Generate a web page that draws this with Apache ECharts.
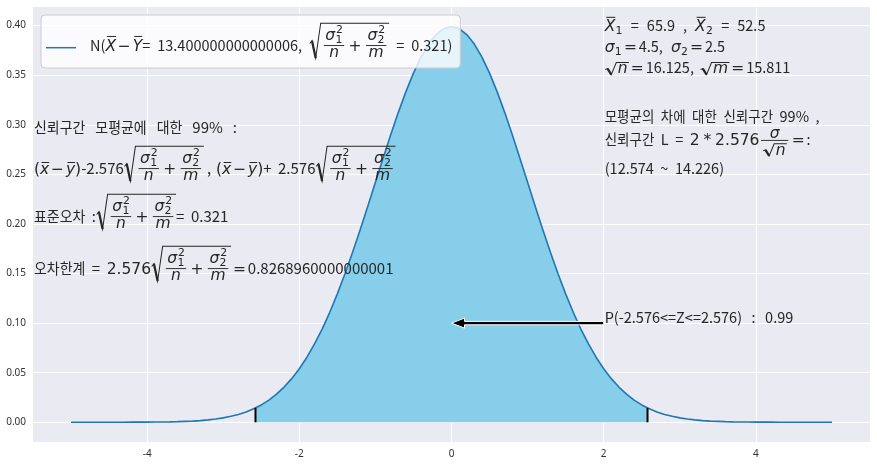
<!DOCTYPE html>
<html><head><meta charset="utf-8">
<script src="https://cdn.jsdelivr.net/npm/echarts@6/dist/echarts.min.js"></script>
<style>html,body{margin:0;padding:0;background:#fff}#c{width:877px;height:465px}</style>
</head><body><div id="c"></div>
<script>
// ---------------- data ----------------
const xValues = [-5.0,-4.9,-4.8,-4.7,-4.6,-4.5,-4.4,-4.3,-4.2,-4.1,-4.0,-3.9,-3.8,-3.7,-3.6,-3.5,-3.4,-3.3,-3.2,-3.1,
  -3.0,-2.9,-2.8,-2.7,-2.6,-2.5,-2.4,-2.3,-2.2,-2.1,-2.0,-1.9,-1.8,-1.7,-1.6,-1.5,-1.4,-1.3,-1.2,-1.1,
  -1.0,-0.9,-0.8,-0.7,-0.6,-0.5,-0.4,-0.3,-0.2,-0.1,0.0,0.1,0.2,0.3,0.4,0.5,0.6,0.7,0.8,0.9,
  1.0,1.1,1.2,1.3,1.4,1.5,1.6,1.7,1.8,1.9,2.0,2.1,2.2,2.3,2.4,2.5,2.6,2.7,2.8,2.9,
  3.0,3.1,3.2,3.3,3.4,3.5,3.6,3.7,3.8,3.9,4.0,4.1,4.2,4.3,4.4,4.5,4.6,4.7,4.8,4.9,5.0];
const densities = [0.0000,0.0000,0.0000,0.0000,0.0000,0.0000,0.0000,0.0000,0.0001,0.0001,0.0001,0.0002,0.0003,0.0004,0.0006,0.0009,0.0012,0.0017,0.0024,0.0033,
  0.0044,0.0060,0.0079,0.0104,0.0136,0.0175,0.0224,0.0283,0.0355,0.0440,0.0540,0.0656,0.0790,0.0940,0.1109,0.1295,0.1497,0.1714,0.1942,0.2179,
  0.2420,0.2661,0.2897,0.3123,0.3332,0.3521,0.3683,0.3814,0.3910,0.3970,0.3989,0.3970,0.3910,0.3814,0.3683,0.3521,0.3332,0.3123,0.2897,0.2661,
  0.2420,0.2179,0.1942,0.1714,0.1497,0.1295,0.1109,0.0940,0.0790,0.0656,0.0540,0.0440,0.0355,0.0283,0.0224,0.0175,0.0136,0.0104,0.0079,0.0060,
  0.0044,0.0033,0.0024,0.0017,0.0012,0.0009,0.0006,0.0004,0.0003,0.0002,0.0001,0.0001,0.0001,0.0000,0.0000,0.0000,0.0000,0.0000,0.0000,0.0000,0.0000];
const criticalZ = [-2.576, 2.576];
const criticalDensity = 0.0145;
const xTicks = [-4, -2, 0, 2, 4];
const yTicks = [0, 0.05, 0.10, 0.15, 0.20, 0.25, 0.30, 0.35, 0.40];
const arrowFrom = [2, 0.1];
const arrowTo = [0, 0.1];
const leftAnchor = [-5.5, 0.15];
const rightAnchor = [2, 0.25];
const probAnchor = [2, 0.1];
const meanDiff = '13.400000000000006';
const stdErr = '0.321';
const errMargin = '0.8268960000000001';
const zCrit = '2.576';
const mean1 = '65.9', mean2 = '52.5';
const sigma1 = '4.5', sigma2 = '2.5';
const sqrtN = '16.125', sqrtM = '15.811';
const ciText = '(12.574 ~ 14.226)';
const probText = 'P(-2.576<=Z<=2.576) : 0.99';

// ---------------- chart ----------------
const chart = echarts.init(document.getElementById('c'), null, {renderer: 'canvas'});
const C0 = '#1f77b4';
const SKY = '#87CEEB';
const xMin = xValues[0], xMax = xValues[xValues.length - 1];
const o1 = (criticalZ[0] - xMin) / (xMax - xMin), o2 = (criticalZ[1] - xMin) / (xMax - xMin);
const clear = 'rgba(135,206,235,0)';
const TICKFONT = '"Noto Sans"';

chart.setOption({
  animation: false,
  grid: {left: 33, right: 7, top: 7, bottom: 23, show: true, backgroundColor: '#EAEAF2', borderWidth: 0},
  xAxis: {type: 'value', min: -5.5, max: 5.5,
    axisLine: {show: false}, axisTick: {show: false, customValues: xTicks},
    axisLabel: {customValues: xTicks, fontSize: 10, color: '#333', margin: 7, fontFamily: TICKFONT,
      formatter: v => String(v)},
    splitLine: {show: true, lineStyle: {color: '#ffffff', width: 1}}},
  yAxis: {type: 'value', min: -0.0199, max: 0.4188,
    axisLine: {show: false}, axisTick: {show: false, customValues: yTicks},
    axisLabel: {customValues: yTicks, fontSize: 10, color: '#333', margin: 7, fontFamily: TICKFONT,
      formatter: v => v.toFixed(2)},
    splitLine: {show: true, lineStyle: {color: '#ffffff', width: 1}}},
  series: [
    {type: 'line', data: xValues.map((x, i) => [x, densities[i]]), symbol: 'none', smooth: false,
      lineStyle: {color: C0, width: 1.6}, z: 3,
      areaStyle: {origin: 0, opacity: 1, color: new echarts.graphic.LinearGradient(0, 0, 1, 0, [
        {offset: 0, color: clear}, {offset: o1, color: clear}, {offset: o1, color: SKY},
        {offset: o2, color: SKY}, {offset: o2, color: clear}, {offset: 1, color: clear}])}},
    {type: 'line', data: [[criticalZ[0], 0], [criticalZ[0], criticalDensity]], symbol: 'none',
      lineStyle: {color: '#000', width: 2}, z: 4},
    {type: 'line', data: [[criticalZ[1], 0], [criticalZ[1], criticalDensity]], symbol: 'none',
      lineStyle: {color: '#000', width: 2}, z: 4}
  ]
});

// ---------------- tiny math text layout ----------------
const meas = document.createElement('canvas').getContext('2d');
const TC = '#262626';
const KR = '"Noto Sans CJK KR"';
const DV = '"DejaVu Sans"';
const HS = 0.93;
const isHangul = ch => /[\u1100-\u11FF\u3130-\u318F\uAC00-\uD7AF]/.test(ch);
const fontOf = (size, fam, it) => (it ? 'italic ' : '') + size + 'px ' + fam;
const midCache = {};
function midOff(font) {
  if (midCache[font] != null) return midCache[font];
  meas.font = font;
  meas.textBaseline = 'alphabetic'; const b = meas.measureText('H').actualBoundingBoxAscent;
  meas.textBaseline = 'middle'; const a = meas.measureText('H').actualBoundingBoxAscent;
  meas.textBaseline = 'alphabetic';
  return (midCache[font] = b - a);
}
function run(s, size, fam, it, sx) {
  const font = fontOf(size, fam, it);
  meas.font = font; meas.textBaseline = 'alphabetic';
  const m = meas.measureText(s);
  sx = sx || 1;
  return {w: m.width * sx, a: m.actualBoundingBoxAscent, d: m.actualBoundingBoxDescent,
    draw(x, y, out) {
      out.push({type: 'text', x: x, y: y - midOff(font), scaleX: sx, z: 60, silent: true,
        style: {text: s, x: 0, y: 0, font: font, fill: TC, align: 'left', verticalAlign: 'middle',
          textAlign: 'left', textVerticalAlign: 'middle'}});
    }};
}
function H(...items) {
  let w = 0, a = 0, d = 0;
  items.forEach(it => { w += it.w; a = Math.max(a, it.a); d = Math.max(d, it.d); });
  return {w, a, d, draw(x, y, out) { let cx = x; items.forEach(it => { it.draw(cx, y, out); cx += it.w; }); }};
}
const SP = w => ({w, a: 0, d: 0, draw() {}});
function T(s, size, spw) {
  spw = spw == null ? 6.5 : spw;
  const parts = []; let cur = '', kind = null;
  const kindOf = ch => ch === ' ' ? 's' : (isHangul(ch) ? 'h' : 'l');
  for (const ch of s) {
    const k = kindOf(ch);
    if (kind === null || k === kind) { cur += ch; kind = k; }
    else { parts.push([cur, kind]); cur = ch; kind = k; }
  }
  if (cur) parts.push([cur, kind]);
  return H(...parts.map(([p, k]) => k === 's' ? SP(spw * p.length) : run(p, size, KR, false, k === 'h' ? HS : 1)));
}
const MI = (s, size) => run(s, size, DV, true);
const MR = (s, size) => run(s, size, DV, false);
const BIN = (op, size, f) => H(SP((f || 0.12) * size), MR(op, size), SP((f || 0.12) * size));
function LN(x1, y1, x2, y2, lw) {
  return {type: 'line', z: 60, silent: true, shape: {x1, y1, x2, y2}, style: {stroke: TC, lineWidth: lw}};
}
function OV(body, size) {
  const gap = 0.1 * size, lw = 0.065 * size;
  return {w: body.w, a: body.a + gap + lw, d: body.d,
    draw(x, y, out) { body.draw(x, y, out); const ly = y - body.a - gap - lw / 2; out.push(LN(x + 0.1 * size, ly, x + body.w, ly, lw)); }};
}
function FR(num, den, size) {
  const axis = 0.32 * size, gap = 0.12 * size, lw = 0.06 * size, pad = 0.2 * size;
  const w = Math.max(num.w, den.w) + 2 * pad;
  return {w, a: axis + lw / 2 + gap + num.d + num.a, d: den.a + den.d + gap + lw / 2 - axis,
    draw(x, y, out) {
      const by = y - axis;
      num.draw(x + (w - num.w) / 2, by - lw / 2 - gap - num.d, out);
      den.draw(x + (w - den.w) / 2, by + lw / 2 + gap + den.a, out);
      out.push(LN(x + pad * 0.5, by, x + w - pad * 0.5, by, lw));
    }};
}
function SQ(body, size) {
  const gapTop = 0.12 * size, rw = 0.85 * size, lw = 0.065 * size, padR = 0.08 * size;
  const top = body.a + gapTop, bot = body.d + 0.08 * size;
  return {w: rw + body.w + padR, a: top + lw, d: bot,
    draw(x, y, out) {
      const yt = y - top, yb = y + bot, h = top + bot;
      const A = [x + 0.05 * rw, yb - 0.42 * h], B = [x + 0.22 * rw, yb - 0.5 * h],
            Cc = [x + 0.5 * rw, yb], D = [x + 0.88 * rw, yt], E = [x + rw + body.w + padR, yt];
      out.push({type: 'polyline', z: 60, silent: true, shape: {points: [A, B, Cc, D, E]},
        style: {stroke: TC, lineWidth: lw, fill: null, lineJoin: 'miter'}});
      out.push(LN(B[0], B[1], Cc[0], Cc[1], lw * 2.2));
      body.draw(x + rw, y, out);
    }};
}
function SS(base, sub, sup, size) {
  const subDrop = 0.2 * size, supRise = 0.45 * size;
  const sw = Math.max(sub ? sub.w : 0, sup ? sup.w : 0);
  return {w: base.w + sw + 0.04 * size,
    a: Math.max(base.a, sup ? supRise + sup.a : 0), d: Math.max(base.d, sub ? subDrop + sub.d : 0),
    draw(x, y, out) {
      base.draw(x, y, out);
      const sx = x + base.w + 0.02 * size;
      if (sub) sub.draw(sx, y + subDrop, out);
      if (sup) sup.draw(sx + 0.04 * size, y - supRise, out);
    }};
}

const S = 14.5;          // text size (right block, legend)
const SL = 15;           // text size (left block)
const M = 15.5, m7 = M * 0.7;  // math size
const sigFrac = (i, den) => FR(SS(MI('σ', M), MR(String(i), m7), MR('2', m7), M), MI(den, M), M);
const seRoot = () => SQ(H(sigFrac(1, 'n'), BIN('+', M, 0.18), sigFrac(2, 'm')), M);
const diffXY = () => H(MR('(', M), OV(MI('x', M), M), BIN('−', M), OV(MI('y', M), M), MR(')', M));

// ---------------- annotations ----------------
const els = [];
const px = p => chart.convertToPixel({gridIndex: 0}, p);

// legend
const legendLabel = H(T('N(', S), OV(MI('X', M), M), BIN('−', M), OV(MI('Y', M), M),
  T('= ' + meanDiff + ', ', S, 7), seRoot(), T(' = ' + stdErr + ')', S, 7));
const lgX = 41, lgY = 15, lgTextX = 90, lgBase = 50.5;
const lgW = (lgTextX - lgX) + legendLabel.w + 8;
els.push({type: 'rect', z: 55, silent: true, shape: {x: lgX, y: lgY, width: lgW, height: 53, r: 4},
  style: {fill: 'rgba(255,255,255,0.8)', stroke: '#cccccc', lineWidth: 1}});
els.push({type: 'line', z: 56, silent: true, shape: {x1: 46, y1: 47.7, x2: 76, y2: 47.7}, style: {stroke: C0, lineWidth: 1.5}});
legendLabel.draw(lgTextX, lgBase, els);

// left block
const la = px(leftAnchor);
const leftLines = [
  [-141, T('신뢰구간 모평균에 대한 99% :', SL, 10)],
  [-100, H(diffXY(), T('-' + zCrit, SL), seRoot(), SP(3), T(',', SL), SP(5), diffXY(), T('+ ' + zCrit, SL), seRoot())],
  [-52, H(T('표준오차 :', SL), seRoot(), T('= ' + stdErr, SL))],
  [0, H(T('오차한계 = ', SL), MR(zCrit, M), seRoot(), BIN('=', M), T(errMargin, SL))]
];
leftLines.forEach(([dy, node]) => node.draw(la[0] + 1, la[1] + dy, els));

// right block
const ra = px(rightAnchor);
const rightLines = [
  [-143, H(SS(OV(MI('X', M), M), MR('1', m7), null, M), T(' = ' + mean1 + ' , ', S, 8),
          SS(OV(MI('X', M), M), MR('2', m7), null, M), T(' = ' + mean2, S, 8))],
  [-122, H(SS(MI('σ', M), MR('1', m7), null, M), BIN('=', M), T(sigma1 + ', ', S, 8),
          SS(MI('σ', M), MR('2', m7), null, M), BIN('=', M), T(sigma2, S))],
  [-101, H(SQ(MI('n', M), M), BIN('=', M), T(sqrtN + ', ', S, 6), SQ(MI('m', M), M), BIN('=', M), T(sqrtM, S))],
  [-52.5, T('모평균의 차에 대한 신뢰구간 99% ,', S)],
  [-29, H(T('신뢰구간 L = ', S), MR('2', M), BIN('*', M, 0.25), MR(zCrit, M), FR(MI('σ', M), SQ(MI('n', M), M), M), BIN('=', M), T(':', S))],
  [0, T(ciText, S)]
];
rightLines.forEach(([dy, node]) => node.draw(ra[0] + 1, ra[1] + dy, els));

// probability text + arrow
const pa = px(probAnchor);
T(probText, S, 9.5).draw(pa[0] + 1, pa[1], els);
const af = px(arrowFrom), at = px(arrowTo);
const tail = af[0], tip = at[0], ay = at[1], hw = 5, sw = 1.7, hl = 13;
els.push({type: 'polygon', z: 58, silent: true,
  shape: {points: [[tail, ay - sw], [tip + hl, ay - sw], [tip + hl, ay - hw], [tip, ay], [tip + hl, ay + hw], [tip + hl, ay + sw], [tail, ay + sw]]},
  style: {fill: '#000', stroke: '#fff', lineWidth: 1}});

chart.setOption({graphic: {elements: els}});
</script></body></html>
